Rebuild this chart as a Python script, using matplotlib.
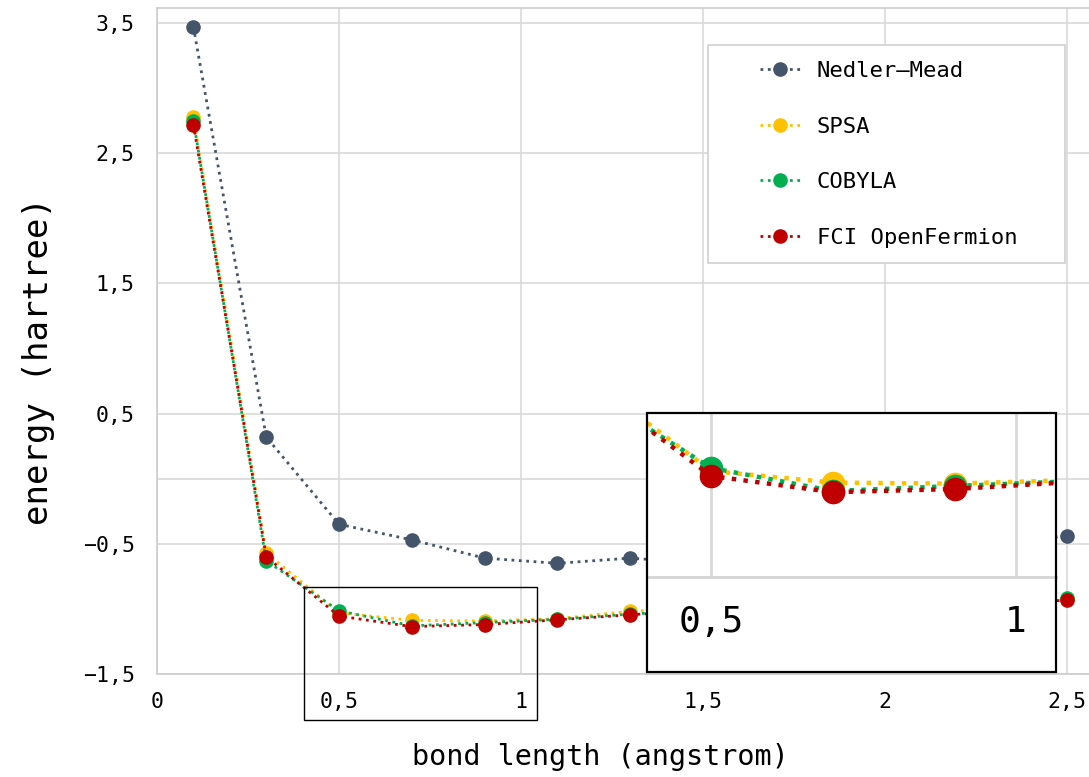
import matplotlib
matplotlib.use("Agg")
import matplotlib.pyplot as plt
from matplotlib.patches import Rectangle
from matplotlib.ticker import FuncFormatter, FixedLocator

# ---- data ----
bond_length = [0.1, 0.3, 0.5, 0.7, 0.9, 1.1, 1.3, 1.5, 1.7, 1.9, 2.1, 2.3, 2.5]
nedler_mead = [3.47, 0.32, -0.35, -0.47, -0.61, -0.65, -0.61, -0.65, -0.62, -0.58, -0.53, -0.49, -0.44]
spsa = [2.78, -0.57, -1.03, -1.088, -1.093, -1.075, -1.018, -0.99, -0.97, -0.955, -0.94, -0.93, -0.925]
cobyla = [2.75, -0.63, -1.015, -1.13, -1.105, -1.08, -1.04, -1.01, -0.98, -0.96, -0.95, -0.935, -0.915]
fci = [2.72, -0.60, -1.055, -1.136, -1.120, -1.084, -1.045, -1.012, -0.985, -0.965, -0.952, -0.943, -0.935]
series_names = ["Nedler\u2013Mead", "SPSA", "COBYLA", "FCI OpenFermion"]
series_colors = ["#44546A", "#FFC000", "#00B050", "#C00000"]
x_ticks = [0, 0.5, 1, 1.5, 2, 2.5]
y_ticks = [-1.5, -0.5, 0.5, 1.5, 2.5, 3.5]
inset_x_ticks = [0.5, 1]

W, H = 1089, 777
plt.rcParams["font.family"] = ["DejaVu Sans Mono"]
fig = plt.figure(figsize=(W / 100, H / 100), dpi=100)


def fx(px):
    return px / W


def fy(py):
    return 1 - py / H


GRID = "#d9d9d9"


def fmt(v, pos=None):
    s = f"{v:g}".replace(".", ",")
    return s.replace("-", "\u2212")


ax = fig.add_axes([fx(157), fy(674), fx(1089) - fx(157), fy(8) - fy(674)])
ax.set_xlim(0, 2.56)
ax.set_ylim(-1.5, 3.615)
ax.xaxis.set_major_locator(FixedLocator(x_ticks))
ax.yaxis.set_major_locator(FixedLocator(y_ticks))
ax.xaxis.set_major_formatter(FuncFormatter(fmt))
ax.yaxis.set_major_formatter(FuncFormatter(fmt))
ax.tick_params(axis="both", length=0, labelsize=15.5)
ax.tick_params(axis="x", pad=13)
ax.tick_params(axis="y", pad=16)
ax.grid(True, color=GRID, lw=1.2, zorder=0)
ax.axhline(0, color=GRID, lw=1.2, zorder=0)
ax.set_axisbelow(True)
for side in ["left", "bottom", "top"]:
    ax.spines[side].set_color("#cccccc")
    ax.spines[side].set_linewidth(1.2)
ax.spines["right"].set_visible(False)

all_series = [nedler_mead, spsa, cobyla, fci]
handles = []
for vals, name, col in zip(all_series, series_names, series_colors):
    h, = ax.plot(bond_length, vals, linestyle=":", lw=2.0, color=col,
                 marker="o", markersize=9.5, label=name, zorder=3)
    handles.append(h)

# small zoom-region rectangle (extends below axes)
ax.add_patch(Rectangle((0.405, -1.854), 1.045 - 0.405, -0.83 - (-1.854),
                       fill=False, edgecolor="black", lw=1.0,
                       clip_on=False, zorder=5))

# axis labels
fig.text(fx(600), fy(757), "bond length (angstrom)", ha="center", va="center", fontsize=20.5)
fig.text(fx(39), fy(361), "energy (hartree)", ha="center", va="center",
         rotation=90, fontsize=24.5)

# legend
fig.add_artist(Rectangle((fx(708), fy(263)), fx(1065) - fx(708), fy(45) - fy(263),
                         transform=fig.transFigure, facecolor="white",
                         edgecolor="#d0d0d0", lw=1.2, zorder=4))
leg = fig.legend(handles=handles, loc="upper left",
                 bbox_to_anchor=(fx(760), fy(61)), frameon=False,
                 fontsize=16, borderpad=0, borderaxespad=0,
                 handlelength=1.8, handletextpad=0.75, labelspacing=1.6,
                 markerscale=1.0)
leg.set_zorder(6)

# inset
fig.add_artist(Rectangle((fx(647), fy(672)), fx(1056) - fx(647), fy(413) - fy(672),
                         transform=fig.transFigure, facecolor="white",
                         edgecolor="none", zorder=1))
axin = fig.add_axes([fx(647), fy(577), fx(1056) - fx(647), fy(413) - fy(577)], zorder=2)
axin.set_xlim(0.3947, 1.0658)
axin.set_ylim(-1.56, -0.74)
axin.xaxis.set_major_locator(FixedLocator(inset_x_ticks))
axin.xaxis.set_major_formatter(FuncFormatter(fmt))
axin.set_yticks([])
axin.tick_params(axis="x", length=0, labelsize=26, pad=20.5)
axin.grid(True, axis="x", color=GRID, lw=2.0, zorder=0)
axin.set_axisbelow(True)
for side in ["left", "top", "right"]:
    axin.spines[side].set_visible(False)
axin.spines["bottom"].set_color("#d4d4d4")
axin.spines["bottom"].set_linewidth(2.0)
for vals, col in zip(all_series, series_colors):
    axin.plot(bond_length, vals, linestyle=":", lw=3.2, color=col,
              marker="o", markersize=16, zorder=3)
fig.add_artist(Rectangle((fx(647), fy(672)), fx(1056) - fx(647), fy(413) - fy(672),
                         transform=fig.transFigure, fill=False,
                         edgecolor="black", lw=1.6, zorder=3))

fig.savefig("out.png", dpi=100)
